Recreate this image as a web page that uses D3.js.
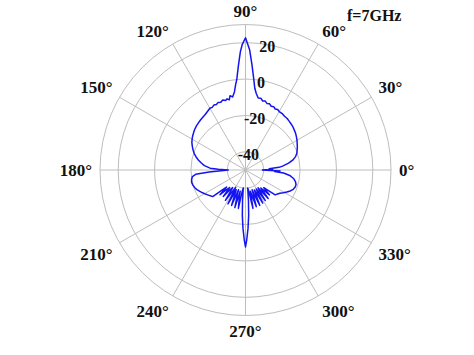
<!DOCTYPE html>
<html>
<head>
<meta charset="utf-8">
<script src="https://cdn.jsdelivr.net/npm/d3@7"></script>
<style>
    body { margin: 0; background: #fff; }
    text { font-family: "Liberation Serif", "Times New Roman", serif; font-weight: bold; fill: #111; }
</style>
</head>
<body>
<div id="polarplot"></div>
<script>
const chartWidth = 474;
const chartHeight = 355;

// radiation pattern (angle in degrees, gain in dB)
const angleDeg = [
    0, 1.5, 3, 4.5, 6, 9, 12, 15, 18, 21, 24, 27, 30, 33, 36, 39, 42, 45, 48, 51, 54, 57,
    60, 62, 64, 66, 68, 70, 72, 74, 76, 78, 80, 82, 83.5, 85, 86.5, 88, 90, 91.5, 92.5, 94,
    95.5, 96.5, 98, 100, 101.8, 103, 104.5, 106, 108, 110, 112, 114, 116, 118, 120, 123,
    126, 129, 132, 135, 138, 141, 144, 147, 150, 153, 156, 159, 162, 165, 168, 171, 174,
    177, 178.5, 180, 181.5, 183, 185, 187, 190, 193, 196, 199, 202, 205, 208, 211, 214,
    217, 219, 220.5, 222, 224, 226, 228, 230, 232, 234, 236.5, 238.5, 240.5, 242.7, 245,
    246.5, 248.6, 250.5, 252, 254.2, 256, 257.5, 259.5, 261.5, 263, 264.5, 266, 267.5, 269,
    270, 271, 272.5, 274, 275.5, 277, 278.5, 281, 283, 284.5, 286.5, 288.5, 290, 292, 294,
    295.5, 297.5, 299.5, 301, 303, 305, 306.5, 308.5, 310.5, 312, 314, 316, 318, 320, 323,
    326, 329, 332, 335, 338, 341, 344, 347, 350, 353, 355.5, 357, 358.5, 360
];
const gainDb = [
    -41, -35, -37, -31.5, -29.5, -26, -23.3, -21.5, -20.3, -19.6, -18.8, -18.1, -17.3, -16.6, -15.9, -15.4, -14.8, -14.4, -14.0, -13.6, -13.5, -13.0,
    -12.9, -12.3, -12.7, -11.9, -12.2, -11.3, -11.6, -10.6, -10.9, -9.6, -9.8, -7.5, -4.8, 1, 8, 16, 22.7, 19, 15, 7,
    0, -2.5, -6.5, -9.2, -8.3, -10.4, -9.6, -10.2, -9.5, -10.3, -9.9, -10.6, -10.3, -11, -10.8, -11.6,
    -12.3, -12.7, -13.0, -13.4, -13.7, -14.2, -14.8, -15.4, -16.1, -16.9, -18, -19.1, -20.3, -21.8, -23.5, -25.4, -27.3,
    -30.5, -35, -40.5, -38, -30, -22.5, -20.6, -19.9, -19.6, -19.9, -20.4, -21.2, -22.3, -23.3, -24.3, -25.3,
    -26.2, -26.8, -33, -36, -30.5, -35, -37, -31, -36, -38, -30, -36, -39, -29, -38,
    -35, -29, -38.5, -35, -28.5, -38, -34, -28.5, -38.5, -40, -33, -25, -18, -11.5,
    -7.7, -11.5, -18, -25, -33, -40, -38.5, -28.5, -38, -35, -29, -38.5, -35, -29, -38,
    -36, -29.5, -38, -36, -30, -38, -36, -30, -37, -35, -31, -36, -33, -28.7, -28,
    -27.2, -25.8, -24.3, -22.8, -21.7, -21.1, -21.1, -21.8, -23.2, -25.5, -29, -34, -31, -41
];

const ringValues = [-40, -20, 0, 20];
const ringLabels = ["-40", "-20", "0", "20"];
const spokeAngles = [0, 30, 60, 90, 120, 150, 180, 210, 240, 270, 300, 330];
const spokeLabels = ["0°", "30°", "60°", "90°", "120°", "150°", "180°", "210°", "240°", "270°", "300°", "330°"];
const titleText = "f=7GHz";

const cx = 245.5;
const cy = 170;
const outerRadius = 145.5;

const rScale = d3.scaleLinear().domain([-50, 30]).range([0, outerRadius]);
const toRad = a => a * Math.PI / 180;

const svg = d3.select("#polarplot").append("svg")
    .attr("width", chartWidth)
    .attr("height", chartHeight);

const g = svg.append("g").attr("transform", `translate(${cx},${cy})`);

// grid circles
g.selectAll("circle.ring")
    .data(ringValues.concat([30]))
    .enter().append("circle")
    .attr("class", "ring")
    .attr("r", d => rScale(d))
    .attr("fill", "none")
    .attr("stroke", "#bdbdbd")
    .attr("stroke-width", 1);

// spokes
g.selectAll("line.spoke")
    .data(spokeAngles)
    .enter().append("line")
    .attr("class", "spoke")
    .attr("x1", 0).attr("y1", 0)
    .attr("x2", d => outerRadius * Math.cos(toRad(d)))
    .attr("y2", d => -outerRadius * Math.sin(toRad(d)))
    .attr("stroke", "#bdbdbd")
    .attr("stroke-width", 1);

// pattern
const points = angleDeg.map((a, i) => [a, gainDb[i]]);
const line = d3.lineRadial()
    .angle(d => Math.PI / 2 - toRad(d[0]))
    .radius(d => rScale(d[1]));

g.append("path")
    .datum(points)
    .attr("d", line)
    .attr("fill", "none")
    .attr("stroke", "#1414f0")
    .attr("stroke-width", 1.5)
    .attr("stroke-linejoin", "round");

// angle labels
const labelRadius = outerRadius + 8;
g.selectAll("text.angle")
    .data(spokeAngles)
    .enter().append("text")
    .attr("class", "angle")
    .attr("x", d => labelRadius * Math.cos(toRad(d)))
    .attr("y", d => -labelRadius * Math.sin(toRad(d)))
    .attr("text-anchor", d => {
        const c = Math.cos(toRad(d));
        return c > 0.1 ? "start" : (c < -0.1 ? "end" : "middle");
    })
    .attr("dy", d => {
        const s = Math.sin(toRad(d));
        return s > 0.1 ? "0em" : (s < -0.1 ? "0.8em" : "0.35em");
    })
    .style("font-size", "17px")
    .text((d, i) => spokeLabels[i]);

// radial tick labels
const tickAngle = toRad(80);
g.selectAll("text.ring")
    .data(ringValues)
    .enter().append("text")
    .attr("class", "ring")
    .attr("x", d => (rScale(d) - 2) * Math.cos(tickAngle))
    .attr("y", d => -(rScale(d) - 2) * Math.sin(tickAngle))
    .attr("text-anchor", "middle")
    .attr("dy", "0.35em")
    .style("font-size", "16px")
    .text((d, i) => ringLabels[i]);

svg.append("text")
    .attr("x", 347)
    .attr("y", 21)
    .style("font-size", "16px")
    .text(titleText);
</script>
</body>
</html>
